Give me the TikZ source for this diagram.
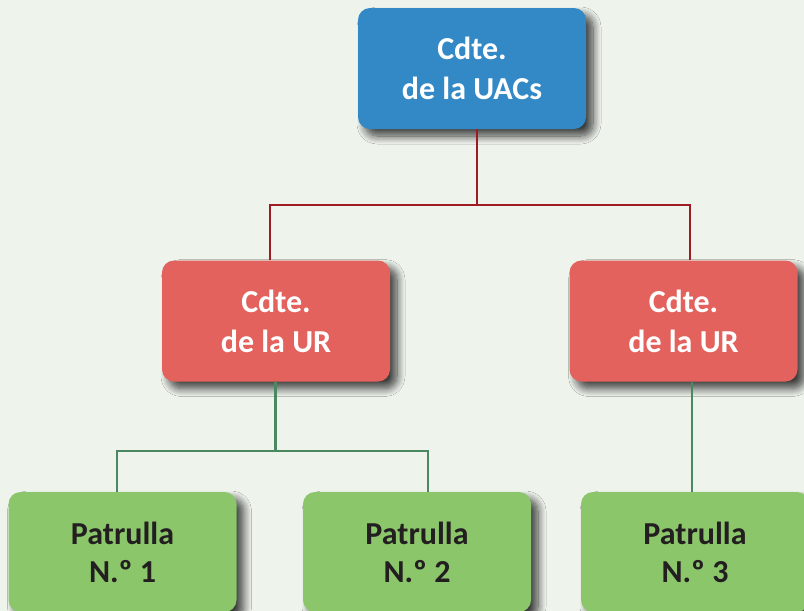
\documentclass[tikz,border=0pt]{standalone}
\usepackage{fontspec}
\setmainfont{Carlito}
\usetikzlibrary{shadows.blur}
\definecolor{bgc}{HTML}{EEF3EC}
\definecolor{bluec}{HTML}{3389C6}
\definecolor{redc}{HTML}{E3625D}
\definecolor{greenc}{HTML}{8BC66B}
\definecolor{redl}{HTML}{9E1B24}
\definecolor{greenl}{HTML}{4A8862}
\definecolor{darktext}{HTML}{231F20}
\tikzset{
  box/.style={rectangle, rounded corners=12pt, minimum width=228pt, minimum height=121pt,
    align=center, inner sep=0pt,
    font=\fontsize{32}{40}\selectfont\bfseries,
    blur shadow={shadow xshift=7pt, shadow yshift=-7pt, shadow blur radius=8pt, shadow blur steps=10, shadow opacity=75}},
  topbox/.style={box, fill=bluec, text=white},
  urbox/.style={box, fill=redc, text=white},
  patbox/.style={box, fill=greenc, text=darktext, minimum height=120pt, font=\fontsize{32}{38}\selectfont\bfseries},
  redline/.style={draw=redl, line width=2.4pt},
  greenline/.style={draw=greenl, line width=2.4pt},
}
\begin{document}
\begin{tikzpicture}[x=1pt,y=-1pt]
\fill[bgc] (0,0) rectangle (804,611);
\useasboundingbox (0,0) rectangle (804,611);
\begin{scope}
\clip (0,0) rectangle (804,611);
\node[topbox] (top) at (472,68.5) {Cdte.\\de la UACs};
\node[urbox] (urL) at (276,321) {Cdte.\\de la UR};
\node[urbox] (urR) at (683.5,321) {Cdte.\\de la UR};
\node[patbox] (p1) at (122.5,552) {Patrulla\\N.º 1};
\node[patbox] (p2) at (417,552) {Patrulla\\N.º 2};
\node[patbox] (p3) at (695,552) {Patrulla\\N.º 3};
\coordinate (j1) at (477,205);
\coordinate (j2) at (275.5,451);
\draw[redline] (top.south -| j1) -- (j1);
\draw[redline] ([xshift=-6pt]urL.north) |- (j1) -| ([xshift=6.5pt]urR.north);
\draw[greenline] (urL.south -| j2) -- (j2);
\draw[greenline] ([xshift=-5.5pt]p1.north) |- (j2) -| ([xshift=11pt]p2.north);
\draw[greenline] ([xshift=8.5pt]urR.south) -- ([xshift=-3pt]p3.north);
\end{scope}
\end{tikzpicture}
\end{document}
